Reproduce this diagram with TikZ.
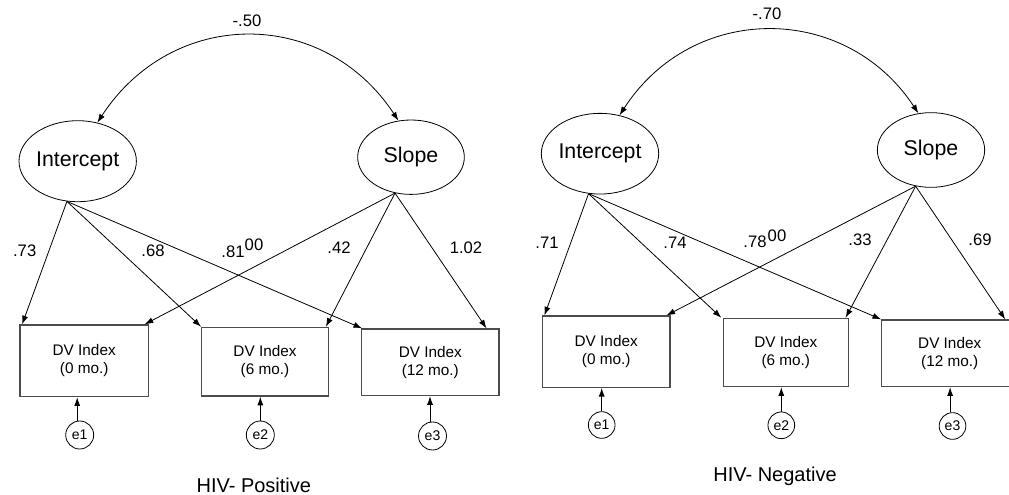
\documentclass[tikz,border=0pt]{standalone}
\usepackage{fontspec}
\setmainfont{Liberation Sans}
\usetikzlibrary{arrows.meta,shapes.geometric}
\tikzset{
  tip/.tip={Latex[length=6.5pt,width=4.5pt]},
  latent/.style={draw, ellipse, line width=0.6pt, inner sep=0pt, font=\fontsize{16}{19}\selectfont},
  obs/.style={draw=black!70, line width=0.9pt, rectangle, inner sep=0pt, align=center,
              font=\fontsize{11.5}{13.5}\selectfont},
  err/.style={draw, circle, line width=0.6pt, inner sep=0pt, minimum size=21pt,
              font=\fontsize{10.5}{12}\selectfont},
  coef/.style={inner sep=0pt, font=\fontsize{12.5}{15}\selectfont},
  paneltitle/.style={inner sep=0pt, font=\fontsize{15}{18}\selectfont},
  link/.style={draw, line width=0.6pt, -tip},
  cov/.style={draw, line width=0.6pt, tip-tip},
}
\begin{document}
\begin{tikzpicture}[x=0.75pt,y=-0.75pt]
\clip (0,0) rectangle (1009,495);

% ---------------- HIV-positive model ----------------
\node[latent, minimum width=82.5pt, minimum height=60.75pt] (I1) at (77.7,161.2) {Intercept};
\node[latent, minimum width=80pt, minimum height=55.8pt] (S1) at (411,157.2) {Slope};

\node[obs, minimum width=96.2pt, minimum height=53.8pt] (A1) at (84.2,360.8) {DV Index\\(0 mo.)};
\node[obs, minimum width=95pt, minimum height=51.5pt] (B1) at (265,361.7) {DV Index\\(6 mo.)};
\node[obs, minimum width=103pt, minimum height=50pt] (C1) at (430.3,362.3) {DV Index\\(12 mo.)};

\node[err] (ea1) at (79.7,435) {e1};
\node[err] (eb1) at (260.3,435) {e2};
\node[err] (ec1) at (432.5,436) {e3};

\coordinate (I1b) at (I1.255);
\coordinate (S1b) at (S1.246);

\path[cov] (I1.63) .. controls +(75,-115) and +(-75,-114) .. (S1.109);

\path[link] (I1b) -- ([xshift=2pt]A1.north west);
\path[link] (I1b) -- (B1.north west);
\path[link] (I1b) -- ([xshift=0.8pt]C1.north west);
\path[link] (S1b) -- ([xshift=-3.2pt]A1.north east);
\path[link] (S1b) -- ([xshift=-2.3pt]B1.north east);
\path[link] (S1b) -- ([xshift=-9.8pt]C1.north east);

\path[link] (ea1.100) -- (ea1.100 |- A1.south);
\path[link] (eb1.north) -- (eb1.north |- B1.south);
\path[link] (ec1.100) -- (ec1.100 |- C1.south);

\node[coef] (r1) at (247,20.8) {-.50};
\node[coef] (pa1) at (24.7,251) {.73};
\node[coef] (pb1) at (153,251) {.68};
\node[coef] (pc1) at (233,252) {.81};
\node[coef] (px1) at (254,245) {00};
\node[coef] (qb1) at (339,248) {.42};
\node[coef] (qc1) at (466,248) {1.02};

\node[paneltitle] (t1) at (253.8,485) {HIV- Positive};

% ---------------- HIV-negative model ----------------
\node[latent, minimum width=82.5pt, minimum height=60.5pt] (I2) at (600,153.7) {Intercept};
\node[latent, minimum width=80.5pt, minimum height=56pt] (S2) at (931,150) {Slope};

\node[obs, minimum width=95.8pt, minimum height=53.5pt] (A2) at (606.2,351.7) {DV Index\\(0 mo.)};
\node[obs, minimum width=93.8pt, minimum height=51.2pt] (B2) at (785.8,352.5) {DV Index\\(6 mo.)};
\node[obs, minimum width=102pt, minimum height=50pt] (C2) at (949.7,353.3) {DV Index\\(12 mo.)};

\node[err, minimum size=20pt] (ea2) at (601.7,425) {e1};
\node[err, minimum size=20pt] (eb2) at (781.3,425.3) {e2};
\node[err, minimum size=20pt] (ec2) at (952.5,426) {e3};

\coordinate (I2b) at (I2.254);
\coordinate (S2b) at (S2.247);

\path[cov] (I2.63) .. controls +(73,-113) and +(-73,-111) .. (S2.109);

\path[link] (I2b) -- ([xshift=2pt]A2.north west);
\path[link] (I2b) -- ([xshift=-1pt]B2.north west);
\path[link] (I2b) -- (C2.north west);
\path[link] (S2b) -- ([xshift=-3.2pt]A2.north east);
\path[link] (S2b) -- ([xshift=-2.5pt]B2.north east);
\path[link] (S2b) -- ([xshift=-9.8pt]C2.north east);

\path[link] (ea2.north) -- (ea2.north |- A2.south);
\path[link] (eb2.north) -- (eb2.north |- B2.south);
\path[link] (ec2.100) -- (ec2.100 |- C2.south);

\node[coef] (r2) at (767,14) {-.70};
\node[coef] (pa2) at (547,243) {.71};
\node[coef] (pb2) at (675,243) {.74};
\node[coef] (pc2) at (755,242) {.78};
\node[coef] (px2) at (777,236) {00};
\node[coef] (qb2) at (860,240) {.33};
\node[coef] (qc2) at (980,240) {.69};

\node[paneltitle] (t2) at (775,476) {HIV- Negative};
\end{tikzpicture}
\end{document}
